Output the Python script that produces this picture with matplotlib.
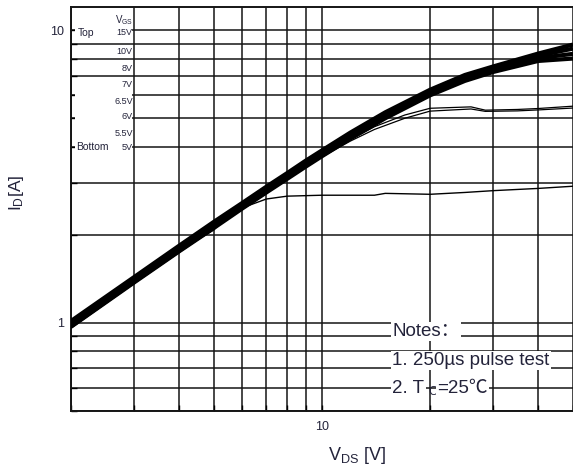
import matplotlib
matplotlib.use("Agg")
import matplotlib.pyplot as plt
import matplotlib.ticker as mticker
from matplotlib.patches import Rectangle

# ---------------------------------------------------------------------------
# Data (log-log)
# ---------------------------------------------------------------------------
vds_band = [2, 3, 4, 5, 6, 7, 8, 9, 10, 12, 15, 20, 25, 30, 40, 50]
id_15v = [1.015, 1.435, 1.835, 2.215, 2.57, 2.92, 3.25, 3.58, 3.885, 4.47, 5.24, 6.26, 7.03, 7.52, 8.32, 8.93]
id_10v = [1.0, 1.415, 1.805, 2.185, 2.53, 2.88, 3.20, 3.53, 3.825, 4.40, 5.16, 6.17, 6.93, 7.42, 8.18, 8.65]
id_8v = [0.985, 1.395, 1.785, 2.155, 2.49, 2.83, 3.15, 3.475, 3.77, 4.34, 5.08, 6.08, 6.82, 7.32, 8.03, 8.30]
id_7v = [0.97, 1.375, 1.755, 2.11, 2.46, 2.79, 3.105, 3.415, 3.71, 4.265, 5.0, 5.99, 6.71, 7.20, 7.85, 8.00]

vds_mid = [2, 3, 4, 5, 6, 7, 8, 9, 10, 12, 14, 17, 20, 26, 28.5, 35, 40, 50]
id_6v5 = [0.965, 1.37, 1.75, 2.105, 2.455, 2.785, 3.10, 3.41, 3.70, 4.22, 4.68, 5.13, 5.41, 5.47, 5.33, 5.36, 5.40, 5.50]
id_6v = [0.965, 1.37, 1.75, 2.105, 2.455, 2.785, 3.10, 3.41, 3.69, 4.18, 4.58, 5.00, 5.29, 5.38, 5.28, 5.30, 5.34, 5.42]

vds_low = [2, 3, 4, 4.5, 5, 5.4, 6.15, 7, 8, 10, 14, 15, 20, 25, 30, 40, 50]
id_5v5 = [0.96, 1.365, 1.74, 1.92, 2.08, 2.29, 2.50, 2.65, 2.71, 2.73, 2.73, 2.77, 2.75, 2.79, 2.83, 2.88, 2.93]

vgs_labels = ["15V", "10V", "8V", "7V", "6.5V", "6V", "5.5V", "5V"]
note_lines = ["Notes\uff1a", "1. 250\u00b5s pulse test"]

# ---------------------------------------------------------------------------
# Figure
# ---------------------------------------------------------------------------
plt.rcParams.update({
    "font.family": ["Liberation Sans", "Noto Sans CJK SC", "DejaVu Sans"],
    "mathtext.fontset": "custom",
    "mathtext.rm": "Liberation Sans",
    "mathtext.it": "Liberation Sans:italic",
})

TXT = "#23233a"
fig = plt.figure(figsize=(5.73, 4.70), dpi=100)
ax = fig.add_axes([71 / 573, 1 - 411 / 470, 502 / 573, 404 / 470])
ax.set_xscale("log")
ax.set_yscale("log")
ax.set_xlim(2, 50)
ax.set_ylim(0.5, 12)

ax.xaxis.set_major_locator(mticker.LogLocator(base=10))
ax.xaxis.set_minor_locator(mticker.LogLocator(base=10, subs=range(2, 10)))
ax.yaxis.set_major_locator(mticker.LogLocator(base=10))
ax.yaxis.set_minor_locator(mticker.LogLocator(base=10, subs=range(2, 10)))
fmt = mticker.FuncFormatter(lambda v, p: f"{v:g}")
ax.xaxis.set_major_formatter(fmt)
ax.yaxis.set_major_formatter(fmt)
ax.xaxis.set_minor_formatter(mticker.NullFormatter())
ax.yaxis.set_minor_formatter(mticker.NullFormatter())

ax.grid(True, which="both", color="#151515", linewidth=1.1)
ax.tick_params(which="both", direction="in", length=4, width=1.0,
               labelsize=9, labelcolor=TXT)
ax.tick_params(axis="x", pad=7)
ax.tick_params(axis="y", pad=5)
for side in ("left", "bottom", "top"):
    ax.spines[side].set_linewidth(1.4)
    ax.spines[side].set_color("#151515")
ax.spines["right"].set_visible(False)

# curves: 15/10/8/7 V overlap into one thick band
for ids in (id_15v, id_10v, id_8v, id_7v):
    ax.plot(vds_band, ids, color="black", linewidth=3.0, zorder=3,
            solid_capstyle="butt")
ax.plot(vds_mid, id_6v5, color="black", linewidth=0.9, zorder=3)
ax.plot(vds_mid, id_6v, color="black", linewidth=0.9, zorder=3)
ax.plot(vds_low, id_5v5, color="black", linewidth=1.0, zorder=3)

# white area behind the V_GS legend
for y0, y1 in ((0.639, 0.80), (0.923, 0.958)):
    ax.add_patch(Rectangle((0.008, y0), 0.114, y1 - y0, transform=ax.transAxes,
                           facecolor="white", edgecolor="none", zorder=2.5))

ax.text(0.123, 0.968, "V$_\\mathregular{GS}$", transform=ax.transAxes,
        ha="right", va="center", fontsize=7, color=TXT, zorder=4)
label_y = [0.936, 0.889, 0.847, 0.807, 0.767, 0.728, 0.688, 0.653]
for lab, yy in zip(vgs_labels, label_y):
    ax.text(0.123, yy, lab, transform=ax.transAxes, ha="right", va="center",
            fontsize=6.5, color=TXT, zorder=4)
ax.text(0.013, label_y[0], "Top", transform=ax.transAxes, ha="left",
        va="center", fontsize=7.5, color=TXT, zorder=4)
ax.text(0.011, label_y[-1], "Bottom", transform=ax.transAxes, ha="left",
        va="center", fontsize=7.5, color=TXT, zorder=4)

# notes
white = dict(facecolor="white", edgecolor="none", pad=1.0)
for txt, yy in zip(note_lines, (0.1856, 0.1139)):
    ax.text(0.64, yy, txt, transform=ax.transAxes, ha="left", va="baseline",
            fontsize=13.5, color=TXT, zorder=4, bbox=white)
t2 = ax.text(0.64, 0.0446, "2. T", transform=ax.transAxes, ha="left",
             va="baseline", fontsize=13.5, color=TXT, zorder=4, bbox=white)
sub = ax.annotate("C", xy=(1, 0), xycoords=t2, xytext=(3, -0.5),
                  textcoords="offset points", ha="left", va="bottom",
                  fontsize=9, color=TXT, zorder=4)
ax.annotate("=25\u2103", xy=(1, 0), xycoords=(sub, t2), ha="left",
            va="bottom", fontsize=13.5, color=TXT, zorder=4, bbox=white)

fig.text(357 / 573, 1 - 455 / 470, "V$_\\mathregular{DS}$ [V]", ha="center",
         va="center", fontsize=13, color=TXT)
fig.text(16 / 573, 1 - 193 / 470, "I$_\\mathregular{D}$[A]", ha="center",
         va="center", rotation=90, fontsize=12.5, color=TXT)

fig.savefig("out.png", dpi=100)
